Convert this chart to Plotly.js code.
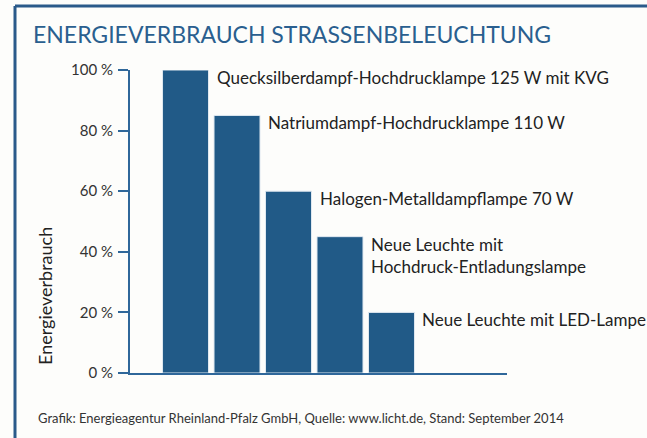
<!DOCTYPE html>
<html>
<head>
<meta charset="utf-8">
<script src="https://cdn.plot.ly/plotly-3.0.1.min.js"></script>
<style>html,body{margin:0;padding:0;background:#fdfdfb;}</style>
</head>
<body>
<div id="chart" style="width:647px;height:438px;"></div>
<script>
const categories = [
  "Quecksilberdampf-Hochdrucklampe 125 W mit KVG",
  "Natriumdampf-Hochdrucklampe 110 W",
  "Halogen-Metalldampflampe 70 W",
  "Neue Leuchte mit<br>Hochdruck-Entladungslampe",
  "Neue Leuchte mit LED-Lampe"
];
const values = [100, 85, 60, 45, 20];
const tickValues = [0, 20, 40, 60, 80, 100];
const tickLabels = ["0 %", "20 %", "40 %", "60 %", "80 %", "100 %"];

const blue = "#215a87";
const lineBlue = "#2f679a";
const font = "Lato, 'Open Sans', sans-serif";
const idx = categories.map((c, i) => i);
const barWidth = 0.893;

const annotations = categories.map((c, i) => ({
  x: i + barWidth / 2, y: values[i], xref: "x", yref: "y",
  text: c, showarrow: false, xanchor: "left", yanchor: "top", align: "left",
  xshift: 6, yshift: 5,
  font: {family: font, size: 17, color: "#222"}
}));
annotations.push({
  xref: "paper", yref: "paper", x: (45 - 130) / 377, y: (373 - 296) / 303,
  text: "Energieverbrauch", textangle: -90, showarrow: false,
  xanchor: "center", yanchor: "middle",
  font: {family: font, size: 18, color: "#222"}
});
annotations.push({
  xref: "paper", yref: "paper", x: (36 - 130) / 377, y: (373 - 418) / 303,
  text: "Grafik: Energieagentur Rheinland-Pfalz GmbH, Quelle: www.licht.de, Stand: September 2014",
  showarrow: false, xanchor: "left", yanchor: "middle",
  font: {family: font, size: 13, color: "#333"}
});

const layout = {
  width: 647, height: 438,
  margin: {l: 130, r: 140, t: 70, b: 65},
  paper_bgcolor: "#fdfdfb", plot_bgcolor: "#fdfdfb",
  showlegend: false,
  title: {
    text: "ENERGIEVERBRAUCH STRASSENBELEUCHTUNG",
    xref: "container", yref: "container",
    x: 33 / 647, xanchor: "left", y: 1 - 35 / 438, yanchor: "middle",
    font: {family: font, size: 23, color: "#2a5f8f"}
  },
  xaxis: {
    range: [-1.078, 6.243], showticklabels: false, ticks: "",
    showgrid: false, zeroline: false, showline: true,
    linecolor: lineBlue, linewidth: 2, fixedrange: true
  },
  yaxis: {
    range: [0, 100], tickvals: tickValues, ticktext: tickLabels,
    ticks: "outside", ticklen: 10, tickwidth: 2, tickcolor: lineBlue,
    showgrid: false, zeroline: false, showline: true,
    linecolor: lineBlue, linewidth: 2, ticklabelstandoff: 2,
    tickfont: {family: font, size: 15, color: "#333"}
  },
  annotations: annotations,
  shapes: [
    {type: "line", xref: "paper", yref: "paper",
     x0: (15 - 130) / 377, x1: (15 - 130) / 377, y0: (373 - 6) / 303, y1: (373 - 440) / 303,
     line: {color: "#2a5a8a", width: 3}},
    {type: "line", xref: "paper", yref: "paper",
     x0: (15 - 130) / 377, x1: (650 - 130) / 377, y0: (373 - 6) / 303, y1: (373 - 6) / 303,
     line: {color: "#2a5a8a", width: 3}}
  ]
};

Plotly.newPlot("chart", [{
  type: "bar", x: idx, y: values, width: barWidth,
  marker: {color: blue, line: {color: "#dfe8f0", width: 1}},
  hoverinfo: "none"
}], layout, {displayModeBar: false, staticPlot: true});
</script>
</body>
</html>
